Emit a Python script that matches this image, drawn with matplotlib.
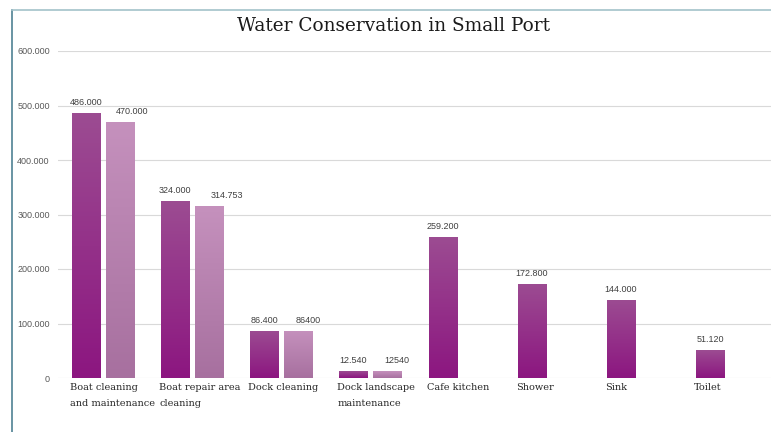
import numpy as np
import matplotlib
matplotlib.use("Agg")
import matplotlib.pyplot as plt
from matplotlib.lines import Line2D
from matplotlib.colors import LinearSegmentedColormap

# data
categories = ["Boat cleaning\nand maintenance", "Boat repair area\ncleaning", "Dock cleaning",
              "Dock landscape\nmaintenance", "Cafe kitchen", "Shower", "Sink", "Toilet"]
usage_before = [486000, 324000, 86400, 12540, 259200, 172800, 144000, 51120]
usage_after = [470000, 314753, 86400, 12540, np.nan, np.nan, np.nan, np.nan]
after_labels = ["470.000", "314.753", "86400", "12540", "", "", "", ""]
yticks = [0, 100000, 200000, 300000, 400000, 500000, 600000]

# styling
dark_top, dark_bottom = "#9c4c92", "#8c1680"
light_top, light_bottom = "#c591bd", "#a7709f"
after_label_shift = [12, 18, 10, 9]   # pixel nudges of the second series' labels

def euro(v):
    return f"{v:,.0f}".replace(",", ".")

fig = plt.figure(figsize=(7.71, 4.32), dpi=100)
ax = fig.add_axes([58 / 771, 1 - 378 / 432, 1 - 58 / 771, (378 - 51) / 432])

x = np.arange(len(categories))
w = 28 / 89
x_dark = x - 0.5 + 14 / 89 + w / 2
x_light = x - 0.5 + 48 / 89 + w / 2

bars_dark = ax.bar(x_dark, usage_before, width=w, color="none", zorder=3)
bars_light = ax.bar(x_light, usage_after, width=w, color="none", zorder=3)

def fill_gradient(bars, top, bottom):
    cmap = LinearSegmentedColormap.from_list("g", [bottom, top])
    grad = np.linspace(0, 1, 256).reshape(-1, 1)
    for b in bars:
        h = b.get_height()
        if not np.isfinite(h) or h <= 0:
            continue
        x0 = b.get_x()
        im = ax.imshow(grad, cmap=cmap, aspect="auto", origin="lower",
                       extent=[x0, x0 + b.get_width(), 0, h], zorder=3)
        im.set_clip_path(b)

fill_gradient(bars_dark, dark_top, dark_bottom)
fill_gradient(bars_light, light_top, light_bottom)

ax.set_xlim(-0.5, len(categories) - 0.5)
ax.set_ylim(0, 600000)
ax.set_yticks(yticks)
ax.set_yticklabels([euro(v) for v in yticks], fontfamily="Liberation Sans",
                   fontsize=6.5, color="#595959")
ax.tick_params(axis="y", length=0, pad=6)
ax.set_xticks([])
ax.grid(axis="y", color="#d9d9d9", linewidth=0.8, zorder=0)
for s in ax.spines.values():
    s.set_visible(False)

# data labels
for xi, v in zip(x_dark, usage_before):
    ax.annotate(euro(v), (xi, v), xytext=(0, 6), textcoords="offset pixels",
                ha="center", va="bottom", fontfamily="Liberation Sans",
                fontsize=6.5, color="#404040")
for i, (xi, v, lab) in enumerate(zip(x_light, usage_after, after_labels)):
    if not np.isfinite(v):
        continue
    ax.annotate(lab, (xi, v), xytext=(after_label_shift[i], 6), textcoords="offset pixels",
                ha="center", va="bottom", fontfamily="Liberation Sans",
                fontsize=6.5, color="#404040")

# category labels, left aligned under the first bar
for xi, cat in zip(x_dark, categories):
    ax.annotate(cat, (xi - w / 2, 0), xycoords=("data", "axes fraction"),
                xytext=(-2, -5), textcoords="offset pixels", ha="left", va="top",
                fontfamily="DejaVu Serif", fontsize=7, color="#262626", linespacing=1.95)

fig.text(394 / 771, 1 - 26 / 432, "Water Conservation in Small Port",
         ha="center", va="center", fontfamily="DejaVu Serif", fontsize=13.3, color="#1a1a1a")

# chart frame (left and top edges visible)
fig.add_artist(Line2D([12 / 771, 12 / 771], [0, 1 - 10 / 432], color="#4f8193", linewidth=1.2))
fig.add_artist(Line2D([12 / 771, 1], [1 - 10 / 432, 1 - 10 / 432], color="#a3c2ca", linewidth=1.2))

fig.savefig("out.png", dpi=100)
